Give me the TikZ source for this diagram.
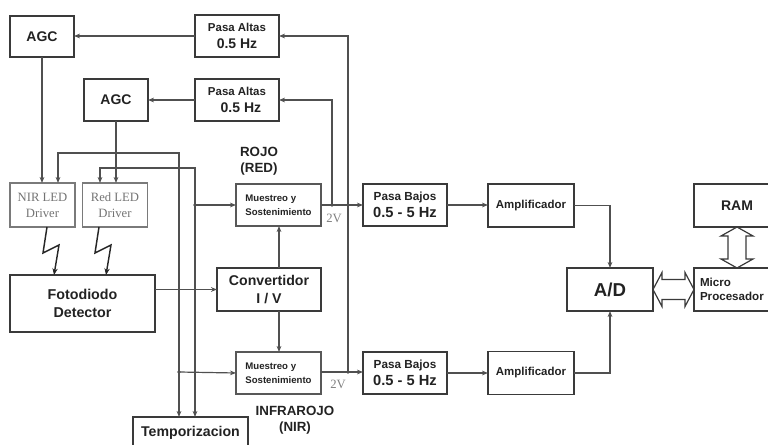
\documentclass[tikz,border=0pt]{standalone}
\usepackage{fontspec}
\setmainfont{Liberation Sans}
\newfontfamily\serifx{Liberation Serif}
\usetikzlibrary{arrows.meta,calc}
\definecolor{boxc}{HTML}{3A3A3A}
\definecolor{linec}{HTML}{505050}
\definecolor{lightc}{HTML}{7A7A7A}
\definecolor{txtc}{HTML}{222222}
\begin{document}
\begin{tikzpicture}[x=0.75pt,y=-0.75pt,
  box/.style={draw=boxc,line width=1.1pt,inner sep=0pt,outer sep=0pt,align=center,
    font=\bfseries\fontsize{10.5}{13}\selectfont,text=txtc},
  lbox/.style={draw=lightc,line width=0.9pt,inner sep=0pt,outer sep=0pt,align=center,
    font=\serifx\fontsize{9.5}{12}\selectfont,text=black!55,
    minimum width=48.75pt,minimum height=33pt},
  pabox/.style={box,minimum width=63pt,minimum height=31.5pt},
  mubox/.style={box,draw=boxc!85,minimum width=63.75pt,minimum height=31.5pt,
    font=\bfseries\fontsize{7.2}{10.5}\selectfont,align=left},
  ampbox/.style={box,minimum width=64.5pt,minimum height=32.25pt,font=\bfseries\fontsize{8.6}{11}\selectfont},
  conn/.style={draw=linec,line width=0.9pt,-{Stealth[length=4.5pt,width=3.5pt]}},
  tconn/.style={draw=linec,line width=0.9pt,{Stealth[length=4.5pt,width=3.5pt]}-{Stealth[length=4.5pt,width=3.5pt]}},
  bolt/.style={draw=black!85,line width=1.1pt,-{Stealth[length=5pt,width=4pt]}},
  hollow/.style={draw=boxc,line width=0.9pt,fill=white},
  jdot/.style={circle,fill=linec,inner sep=0pt,minimum size=2.8pt},
  lbl/.style={font=\bfseries\fontsize{10}{12}\selectfont,text=txtc,align=center,inner sep=0pt},
  vlbl/.style={font=\serifx\fontsize{9.5}{11}\selectfont,text=black!50,inner sep=0pt}
]
\useasboundingbox (0,0) rectangle (768,445);

% boxes
\node[box,minimum width=48pt,minimum height=30.75pt] (agc1) at (42,36.5) {AGC};
\node[pabox] (pa1) at (237,36) {\fontsize{8.6}{12.5}\selectfont Pasa Altas\\{\fontsize{10.5}{12.5}\selectfont 0.5 Hz}};
\node[box,minimum width=48pt,minimum height=31.5pt] (agc2) at (116,100) {AGC};
\node[pabox] (pa2) at (237,100) {\fontsize{8.6}{12.5}\selectfont Pasa Altas\\{\fontsize{10.5}{12.5}\selectfont \hphantom{0}0.5 Hz}};
\node[lbox] (nir) at (42.5,205) {NIR LED\\Driver};
\node[lbox] (red) at (115,205) {Red LED\\Driver};
\node[mubox] (mur) at (278.5,205) {Muestreo y\\Sostenimiento};
\node[mubox] (mun) at (278.5,373) {Muestreo y\\Sostenimiento};
\node[pabox] (pbt) at (405,205) {\fontsize{8.8}{13}\selectfont Pasa Bajos\\{\fontsize{11}{13}\selectfont 0.5 - 5 Hz}};
\node[pabox] (pbb) at (405,373) {\fontsize{8.8}{13}\selectfont Pasa Bajos\\{\fontsize{11}{13}\selectfont 0.5 - 5 Hz}};
\node[ampbox] (ampt) at (531,205.5) {Amplificador};
\node[ampbox] (ampb) at (531,373) {Amplificador};
\node[box,minimum width=64.5pt,minimum height=32.25pt] (ram) at (737,205.5) {RAM};
\node[box,minimum width=108.75pt,minimum height=42.75pt,font=\bfseries\fontsize{10.7}{14}\selectfont] (foto) at (82.5,303.5) {Fotodiodo\\Detector};
\node[box,minimum width=78pt,minimum height=32.25pt,font=\bfseries\fontsize{10.6}{13}\selectfont] (conv) at (269,289.5) {Convertidor\\I / V};
\node[box,minimum width=64.5pt,minimum height=32.25pt,font=\bfseries\fontsize{14}{16}\selectfont] (ad) at (610,289.5) {A/D};
\node[box,minimum height=32.25pt,inner xsep=4.5pt,text width=55.5pt,align=left,
      font=\bfseries\fontsize{8.7}{11}\selectfont] (micro) at (737,289.5) {Micro\\Procesador};
\node[box,minimum width=86.25pt,minimum height=24pt,font=\bfseries\fontsize{10.6}{13}\selectfont] (temp) at (190.5,433) {Temporizacion};

% labels
\node[lbl] (rojo) at (259,161) {ROJO\\(RED)};
\node[lbl] (infra) at (295,420) {INFRAROJO\\(NIR)};
\node[vlbl] (v1) at (334,218) {2V};
\node[vlbl] (v2) at (338,384) {2V};

% helper coordinates
\coordinate (j1) at (332,205);
\coordinate (j2) at (348,372);
\coordinate (c1) at (58,153);
\coordinate (c2) at (179,153);
\coordinate (c3) at (100,168);
\coordinate (c4) at (195,168);
\coordinate (d1) at (195,205);
\coordinate (d2) at (179,372);
\coordinate (cx) at (279,0);
\coordinate (b1) at (54,0);
\coordinate (b2) at (106,0);

% high-pass feedback
\draw[conn] (pa1.west) -- (agc1.east |- pa1.west);
\draw[conn] (pa2.west) -- (agc2.east |- pa2.west);
\draw[conn] (j2) |- (pa1.east);
\draw[conn] (j1) |- (pa2.east);

% AGC to drivers
\draw[conn] (agc1.south) -- (agc1.south |- nir.north);
\draw[conn] (agc2.south) -- (agc2.south |- red.north);

% timing
\draw[tconn] (nir.north -| c1) -- (c1) -- (c2) -- (temp.north -| c2);
\draw[tconn] (red.north -| c3) -- (c3) -- (c4) -- (temp.north -| c4);
\draw[conn] (d1) -- (mur.west);
\draw[conn] (d2) -- (mun.west);

% photodiode chain
\draw[conn] (foto.east |- conv.west) -- (conv.west);
\draw[conn] (conv.north -| cx) -- (mur.south -| cx);
\draw[conn] (conv.south -| cx) -- (mun.north -| cx);

% sample & hold outputs
\draw[conn] (mur.east) -- (pbt.west |- mur.east);
\draw[conn] (mun.east |- j2) -- (pbb.west |- j2);
\draw[conn] (pbt.east) -- (ampt.west |- pbt.east);
\draw[conn] (pbb.east) -- (ampb.west |- pbb.east);
\draw[conn] (ampt.east) -| (ad.north);
\draw[conn] (ampb.east) -| (ad.south);

% junction dots
\node[jdot] at (j1) {};
\node[jdot] at (j2) {};
\node[jdot] at (d1) {};
\node[jdot] at (d2) {};

% light bolts
\draw[bolt] ($(nir.south)+(4.5,0)$) -- ++(-4,26) -- ++(16,-8) -- (foto.north -| b1);
\draw[bolt] ($(red.south)+(-16,0)$) -- ++(-4,26) -- ++(16,-8) -- (foto.north -| b2);

% bus arrows
\draw[hollow] (ad.east) -- ++(9,-17) -- ++(0,7) -- ++(23,0) -- ++(0,-7) -- (micro.west)
  -- ++(-9,17) -- ++(0,-7) -- ++(-23,0) -- ++(0,7) -- cycle;
\draw[hollow] (ram.south) -- ++(-16,9) -- ++(7,0) -- ++(0,23) -- ++(-7,0) -- (micro.north)
  -- ++(16,-9) -- ++(-7,0) -- ++(0,-23) -- ++(7,0) -- cycle;
\end{tikzpicture}
\end{document}
